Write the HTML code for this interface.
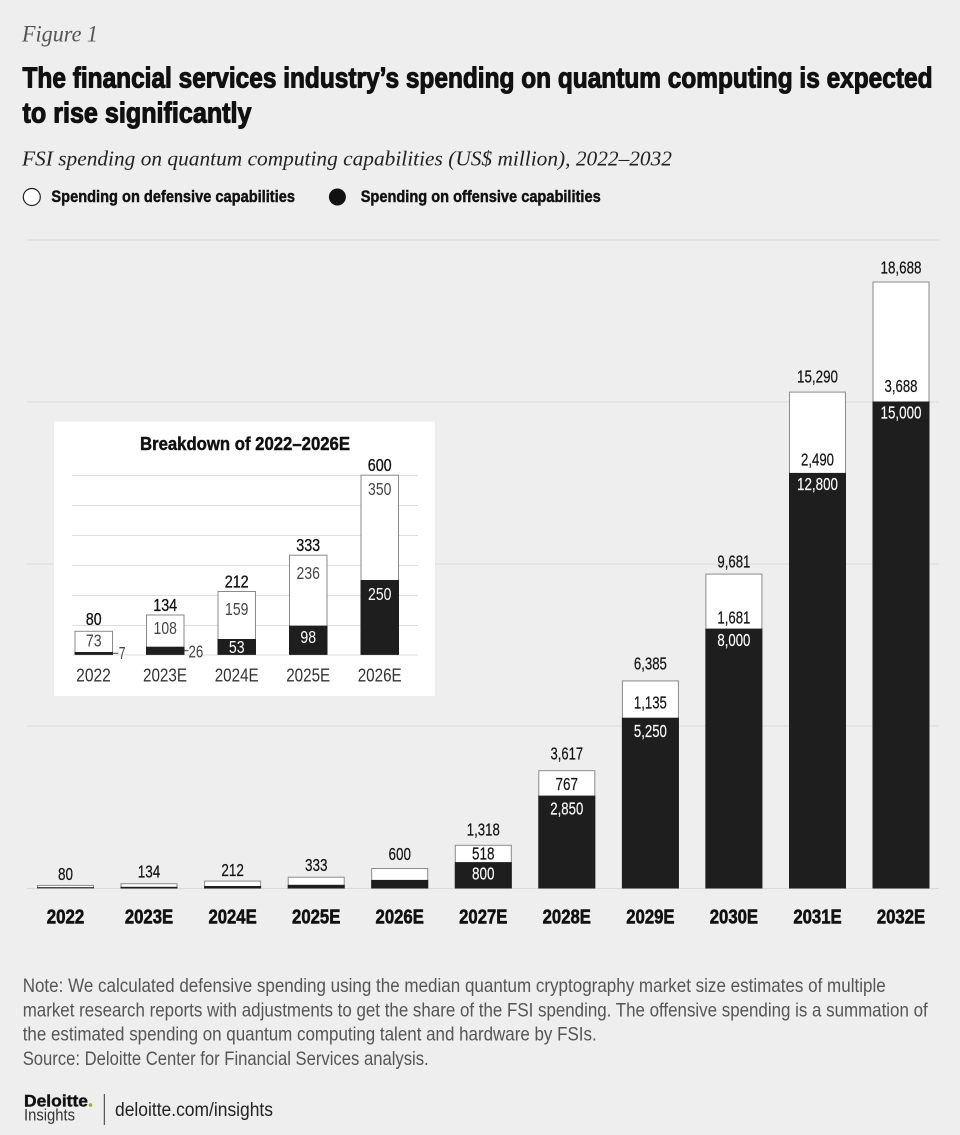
<!DOCTYPE html>
<html><head><meta charset="utf-8">
<style>
html,body{margin:0;padding:0;background:#eeeeee;}
svg{display:block;}
text{font-family:"Liberation Sans Narrow","Liberation Sans",sans-serif;}
.serif{font-family:"Liberation Serif",serif;font-style:italic;}
.b{font-weight:bold;}
</style></head>
<body>
<svg width="960" height="1135" viewBox="0 0 960 1135" xmlns="http://www.w3.org/2000/svg">
<rect x="0" y="0" width="960" height="1135" fill="#eeeeee"/>

<!-- Header -->
<text class="serif" x="22" y="41.5" font-size="23" fill="#555" textLength="76" lengthAdjust="spacingAndGlyphs">Figure 1</text>
<g stroke="#111" stroke-width="1.1" stroke-linejoin="round">
<text class="b" x="22.5" y="87.5" font-size="29" fill="#111" textLength="910" lengthAdjust="spacingAndGlyphs">The financial services industry’s spending on quantum computing is expected</text>
<text class="b" x="22.5" y="122.5" font-size="29" fill="#111" textLength="229" lengthAdjust="spacingAndGlyphs">to rise significantly</text>
</g>
<text class="serif" x="22" y="165.5" font-size="21" fill="#222" textLength="650" lengthAdjust="spacingAndGlyphs">FSI spending on quantum computing capabilities (US$ million), 2022–2032</text>

<!-- Legend -->
<circle cx="31.8" cy="197" r="8.5" fill="#fff" stroke="#222" stroke-width="1.2"/>
<g stroke="#111" stroke-width="0.45">
<text class="b" x="51.4" y="202" font-size="17" fill="#111" textLength="243.6" lengthAdjust="spacingAndGlyphs">Spending on defensive capabilities</text>
<text class="b" x="360.7" y="202" font-size="17" fill="#111" textLength="240" lengthAdjust="spacingAndGlyphs">Spending on offensive capabilities</text>
</g>
<circle cx="337.4" cy="197" r="8.5" fill="#111"/>

<!-- Gridlines -->
<g stroke="#d9d9d9" stroke-width="1">
<line x1="27" y1="240" x2="939" y2="240"/>
<line x1="27" y1="402" x2="939" y2="402"/>
<line x1="27" y1="564" x2="939" y2="564"/>
<line x1="27" y1="726" x2="939" y2="726"/>
<line x1="27" y1="888.5" x2="939" y2="888.5"/>
</g>

<!-- Main bars -->
<g stroke="#8a8a8a" stroke-width="1">
<rect x="37.5" y="885.4" width="56" height="2.6" fill="#fff"/>
<rect x="121" y="883.7" width="56" height="4.3" fill="#fff"/>
<rect x="204.6" y="881.1" width="56" height="6.9" fill="#fff"/>
<rect x="288.2" y="877.2" width="56" height="10.8" fill="#fff"/>
<rect x="371.7" y="868.5" width="56" height="19.5" fill="#fff"/>
<rect x="455.3" y="845.3" width="56" height="42.7" fill="#fff"/>
<rect x="538.8" y="770.7" width="56" height="117.3" fill="#fff"/>
<rect x="622.4" y="680.9" width="56" height="207.1" fill="#fff"/>
<rect x="705.9" y="574.1" width="56" height="313.9" fill="#fff"/>
<rect x="789.5" y="392.1" width="56" height="495.9" fill="#fff"/>
<rect x="873" y="282" width="56" height="606" fill="#fff"/>
</g>
<g fill="#1e1e1e">
<rect x="37" y="887.2" width="57" height="1"/>
<rect x="120.5" y="886.8" width="57" height="1.7"/>
<rect x="204.1" y="886" width="57" height="2.5"/>
<rect x="287.7" y="884.8" width="57" height="3.7"/>
<rect x="371.2" y="879.9" width="57" height="8.6"/>
<rect x="454.8" y="862.1" width="57" height="26.4"/>
<rect x="538.3" y="795.6" width="57" height="92.9"/>
<rect x="621.9" y="717.7" width="57" height="170.8"/>
<rect x="705.4" y="628.6" width="57" height="259.9"/>
<rect x="789" y="472.9" width="57" height="415.6"/>
<rect x="872.5" y="401.5" width="57" height="487"/>
</g>

<!-- Main totals -->
<g font-size="17.5" fill="#111" stroke="#111" stroke-width="0.2" text-anchor="middle">
<text x="65.5" y="880" textLength="15" lengthAdjust="spacingAndGlyphs">80</text>
<text x="149" y="877.7" textLength="22.5" lengthAdjust="spacingAndGlyphs">134</text>
<text x="232.6" y="876" textLength="22.5" lengthAdjust="spacingAndGlyphs">212</text>
<text x="316.2" y="871" textLength="22.5" lengthAdjust="spacingAndGlyphs">333</text>
<text x="399.7" y="860" textLength="22.5" lengthAdjust="spacingAndGlyphs">600</text>
<text x="483.3" y="835.3" textLength="33" lengthAdjust="spacingAndGlyphs">1,318</text>
<text x="566.8" y="759.5" textLength="32.5" lengthAdjust="spacingAndGlyphs">3,617</text>
<text x="650.4" y="669.3" textLength="33" lengthAdjust="spacingAndGlyphs">6,385</text>
<text x="733.9" y="567.7" textLength="33" lengthAdjust="spacingAndGlyphs">9,681</text>
<text x="817.5" y="382.7" textLength="41" lengthAdjust="spacingAndGlyphs">15,290</text>
<text x="901" y="273.7" textLength="41" lengthAdjust="spacingAndGlyphs">18,688</text>
<!-- defensive inner -->
<text x="483.3" y="859.3" textLength="22.5" lengthAdjust="spacingAndGlyphs">518</text>
<text x="566.8" y="790" textLength="22.5" lengthAdjust="spacingAndGlyphs">767</text>
<text x="650.4" y="708.3" textLength="33" lengthAdjust="spacingAndGlyphs">1,135</text>
<text x="733.9" y="623.7" textLength="33" lengthAdjust="spacingAndGlyphs">1,681</text>
<text x="817.5" y="465.3" textLength="33" lengthAdjust="spacingAndGlyphs">2,490</text>
<text x="901" y="392" textLength="33" lengthAdjust="spacingAndGlyphs">3,688</text>
</g>
<g font-size="17.5" fill="#fff" stroke="#fff" stroke-width="0.15" text-anchor="middle">
<text x="483.3" y="879.3" textLength="22.5" lengthAdjust="spacingAndGlyphs">800</text>
<text x="566.8" y="814.7" textLength="33" lengthAdjust="spacingAndGlyphs">2,850</text>
<text x="650.4" y="737" textLength="33" lengthAdjust="spacingAndGlyphs">5,250</text>
<text x="733.9" y="646" textLength="33" lengthAdjust="spacingAndGlyphs">8,000</text>
<text x="817.5" y="490" textLength="41" lengthAdjust="spacingAndGlyphs">12,800</text>
<text x="901" y="418.7" textLength="41" lengthAdjust="spacingAndGlyphs">15,000</text>
</g>

<!-- Category labels -->
<g class="b" font-size="20.5" font-weight="bold" fill="#111" stroke="#111" stroke-width="0.6" text-anchor="middle">
<text x="65.5" y="923.3" textLength="37.6" lengthAdjust="spacingAndGlyphs">2022</text>
<text x="149" y="923.3" textLength="48.3" lengthAdjust="spacingAndGlyphs">2023E</text>
<text x="232.6" y="923.3" textLength="48.3" lengthAdjust="spacingAndGlyphs">2024E</text>
<text x="316.2" y="923.3" textLength="48.3" lengthAdjust="spacingAndGlyphs">2025E</text>
<text x="399.7" y="923.3" textLength="48.3" lengthAdjust="spacingAndGlyphs">2026E</text>
<text x="483.3" y="923.3" textLength="48.3" lengthAdjust="spacingAndGlyphs">2027E</text>
<text x="566.8" y="923.3" textLength="48.3" lengthAdjust="spacingAndGlyphs">2028E</text>
<text x="650.4" y="923.3" textLength="48.3" lengthAdjust="spacingAndGlyphs">2029E</text>
<text x="733.9" y="923.3" textLength="48.3" lengthAdjust="spacingAndGlyphs">2030E</text>
<text x="817.5" y="923.3" textLength="48.3" lengthAdjust="spacingAndGlyphs">2031E</text>
<text x="901" y="923.3" textLength="48.3" lengthAdjust="spacingAndGlyphs">2032E</text>
</g>

<!-- Inset -->
<rect x="54" y="421.5" width="381" height="274.5" fill="#fff"/>
<text class="b" x="140" y="450" font-size="18.5" font-weight="bold" fill="#111" stroke="#111" stroke-width="0.45" textLength="210" lengthAdjust="spacingAndGlyphs">Breakdown of 2022–2026E</text>
<g stroke="#dedede" stroke-width="1">
<line x1="72" y1="475.5" x2="418" y2="475.5"/>
<line x1="72" y1="505.5" x2="418" y2="505.5"/>
<line x1="72" y1="535.5" x2="418" y2="535.5"/>
<line x1="72" y1="565.5" x2="418" y2="565.5"/>
<line x1="72" y1="595.5" x2="418" y2="595.5"/>
<line x1="72" y1="625.5" x2="418" y2="625.5"/>
<line x1="72" y1="655" x2="418" y2="655"/>
</g>
<g stroke="#8a8a8a" stroke-width="1" fill="#fff">
<rect x="75" y="631.3" width="37.5" height="23.2"/>
<rect x="146.5" y="615" width="37.5" height="39.5"/>
<rect x="218" y="591.5" width="37.5" height="63"/>
<rect x="289.5" y="555.2" width="37.5" height="99.3"/>
<rect x="361" y="475.2" width="37.5" height="179.3"/>
</g>
<g fill="#1e1e1e">
<rect x="74.5" y="652" width="38.5" height="2.8"/>
<rect x="146" y="646.7" width="38.5" height="8.1"/>
<rect x="217.5" y="639" width="38.5" height="15.8"/>
<rect x="289" y="625.6" width="38.5" height="29.2"/>
<rect x="360.5" y="580" width="38.5" height="74.8"/>
</g>
<g stroke="#444" stroke-width="1">
<line x1="112.7" y1="653.3" x2="118.5" y2="653.3"/>
<line x1="184.5" y1="650.7" x2="188.5" y2="650.7"/>
</g>
<g font-size="17.5" fill="#111" stroke="#111" stroke-width="0.3" text-anchor="middle">
<text x="93.7" y="625" textLength="15.7" lengthAdjust="spacingAndGlyphs">80</text>
<text x="165.2" y="610.8" textLength="24" lengthAdjust="spacingAndGlyphs">134</text>
<text x="236.7" y="587.5" textLength="24" lengthAdjust="spacingAndGlyphs">212</text>
<text x="308.2" y="550.8" textLength="24" lengthAdjust="spacingAndGlyphs">333</text>
<text x="379.7" y="470.8" textLength="24" lengthAdjust="spacingAndGlyphs">600</text>
</g>
<g font-size="17.5" fill="#444" text-anchor="middle">
<text x="93.7" y="646.5" textLength="15.7" lengthAdjust="spacingAndGlyphs">73</text>
<text x="165.2" y="634" textLength="23.3" lengthAdjust="spacingAndGlyphs">108</text>
<text x="236.7" y="615" textLength="23.3" lengthAdjust="spacingAndGlyphs">159</text>
<text x="308.2" y="579" textLength="23.3" lengthAdjust="spacingAndGlyphs">236</text>
<text x="379.7" y="495" textLength="23.3" lengthAdjust="spacingAndGlyphs">350</text>
</g>
<g font-size="17.5" fill="#444">
<text x="118.7" y="659" textLength="6.8" lengthAdjust="spacingAndGlyphs">7</text>
<text x="188.5" y="657.3" textLength="14.8" lengthAdjust="spacingAndGlyphs">26</text>
</g>
<g font-size="17.5" fill="#fff" text-anchor="middle">
<text x="236.7" y="653" textLength="15.7" lengthAdjust="spacingAndGlyphs">53</text>
<text x="308.2" y="643" textLength="15.7" lengthAdjust="spacingAndGlyphs">98</text>
<text x="379.7" y="600" textLength="23.3" lengthAdjust="spacingAndGlyphs">250</text>
</g>
<g font-size="18.5" fill="#333" text-anchor="middle">
<text x="93.5" y="681.5" textLength="34.7" lengthAdjust="spacingAndGlyphs">2022</text>
<text x="165" y="681.5" textLength="44" lengthAdjust="spacingAndGlyphs">2023E</text>
<text x="236.7" y="681.5" textLength="44" lengthAdjust="spacingAndGlyphs">2024E</text>
<text x="308.2" y="681.5" textLength="44" lengthAdjust="spacingAndGlyphs">2025E</text>
<text x="379.7" y="681.5" textLength="44" lengthAdjust="spacingAndGlyphs">2026E</text>
</g>

<!-- Notes -->
<g font-size="19.5" fill="#555">
<text x="22.7" y="992" textLength="863" lengthAdjust="spacingAndGlyphs">Note: We calculated defensive spending using the median quantum cryptography market size estimates of multiple</text>
<text x="22.7" y="1016.3" textLength="905" lengthAdjust="spacingAndGlyphs">market research reports with adjustments to get the share of the FSI spending. The offensive spending is a summation of</text>
<text x="22.7" y="1040.3" textLength="574" lengthAdjust="spacingAndGlyphs">the estimated spending on quantum computing talent and hardware by FSIs.</text>
<text x="22.7" y="1065" textLength="406" lengthAdjust="spacingAndGlyphs">Source: Deloitte Center for Financial Services analysis.</text>
</g>

<!-- Footer logo -->
<text x="24" y="1106.7" font-size="16.5" font-weight="bold" fill="#111" stroke="#111" stroke-width="0.4" textLength="64" lengthAdjust="spacingAndGlyphs">Deloitte</text>
<circle cx="90.5" cy="1105" r="1.8" fill="#86bc25"/>
<text x="24" y="1120.5" font-size="16.5" fill="#333" textLength="51" lengthAdjust="spacingAndGlyphs">Insights</text>
<line x1="104.3" y1="1094" x2="104.3" y2="1125" stroke="#333" stroke-width="1"/>
<text x="115" y="1116" font-size="19.5" fill="#222" textLength="158" lengthAdjust="spacingAndGlyphs">deloitte.com/insights</text>
</svg>
</body></html>
